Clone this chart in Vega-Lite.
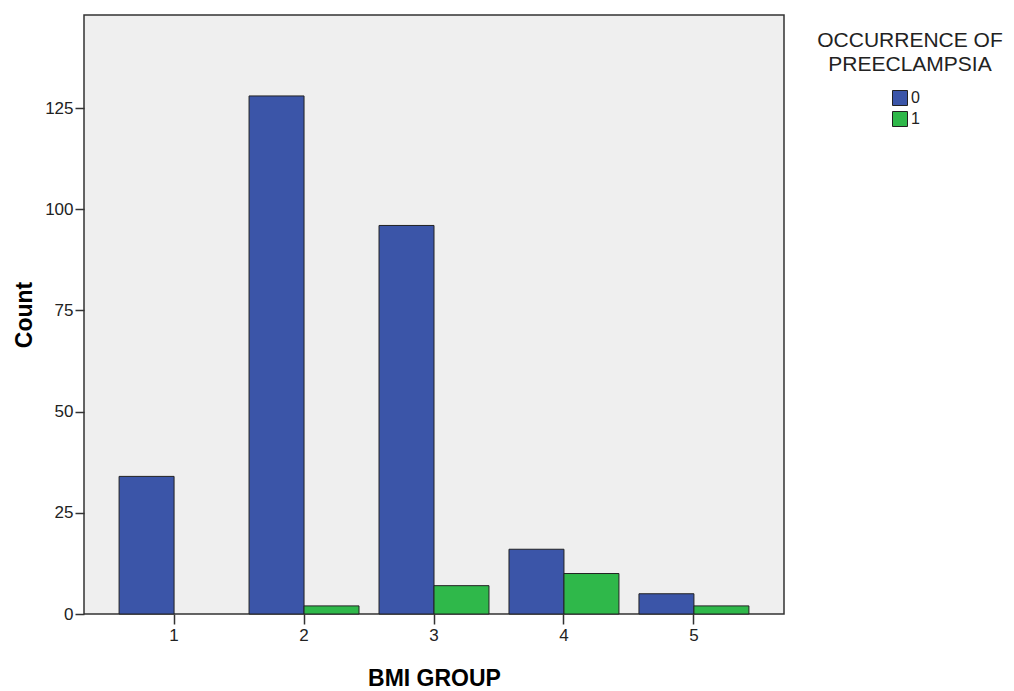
{
  "$schema": "https://vega.github.io/schema/vega-lite/v6.json",
  "width": 700,
  "height": 599,
  "autosize": "none",
  "padding": {"left": 84, "top": 15, "right": 230, "bottom": 77},
  "background": "white",
  "data": {
    "values": [
      {"bmi": "1", "pe": "0", "count": 34},
      {"bmi": "2", "pe": "0", "count": 128},
      {"bmi": "2", "pe": "1", "count": 2},
      {"bmi": "3", "pe": "0", "count": 96},
      {"bmi": "3", "pe": "1", "count": 7},
      {"bmi": "4", "pe": "0", "count": 16},
      {"bmi": "4", "pe": "1", "count": 10},
      {"bmi": "5", "pe": "0", "count": 5},
      {"bmi": "5", "pe": "1", "count": 2}
    ]
  },
  "mark": {"type": "bar", "stroke": "#222222", "strokeWidth": 1},
  "encoding": {
    "x": {
      "field": "bmi", "type": "nominal",
      "scale": {"paddingInner": 0.154, "paddingOuter": 0.27},
      "axis": {
        "title": "BMI GROUP", "titleFont": "Liberation Sans", "titleFontSize": 23, "titleFontWeight": "bold",
        "titleColor": "#000", "titlePadding": 24,
        "labelAngle": 0, "labelFont": "Liberation Sans", "labelFontSize": 17, "labelColor": "#222",
        "labelPadding": 3, "tickColor": "#333", "tickSize": 10, "tickWidth": 1.5, "domain": false
      }
    },
    "xOffset": {"field": "pe", "type": "nominal", "scale": {"domain": ["0", "1"], "paddingInner": 0, "paddingOuter": 0}},
    "y": {
      "field": "count", "type": "quantitative",
      "scale": {"domain": [0, 148], "nice": false},
      "axis": {
        "title": "Count", "titleFont": "Liberation Sans", "titleFontSize": 23, "titleFontWeight": "bold",
        "titleColor": "#000", "titlePadding": 8,
        "values": [0, 25, 50, 75, 100, 125], "grid": false,
        "labelFont": "Liberation Sans", "labelFontSize": 17, "labelColor": "#222",
        "labelPadding": 2, "tickColor": "#333", "tickSize": 9, "tickWidth": 1.5, "domain": false
      }
    },
    "color": {
      "field": "pe", "type": "nominal",
      "scale": {"domain": ["0", "1"], "range": ["#3b55a8", "#2fb84a"]},
      "legend": {
        "title": ["OCCURRENCE  OF", "PREECLAMPSIA"],
        "orient": "none", "legendX": 730, "legendY": 15,
        "titleFont": "Liberation Sans", "titleFontSize": 21, "titleFontWeight": "normal",
        "titleColor": "#222", "titleAlign": "center", "titleLineHeight": 24,
        "titlePadding": 15, "titleLimit": 400,
        "labelFont": "Liberation Sans", "labelFontSize": 16, "labelColor": "#222",
        "symbolType": "square", "symbolSize": 225, "symbolStrokeColor": "#222",
        "symbolStrokeWidth": 1, "symbolOpacity": 1, "symbolOffset": -18,
        "rowPadding": 1, "labelOffset": 3
      }
    }
  },
  "config": {
    "view": {"fill": "#efefef", "stroke": "#333333", "strokeWidth": 1.5},
    "bar": {"strokeWidth": 1}
  }
}
